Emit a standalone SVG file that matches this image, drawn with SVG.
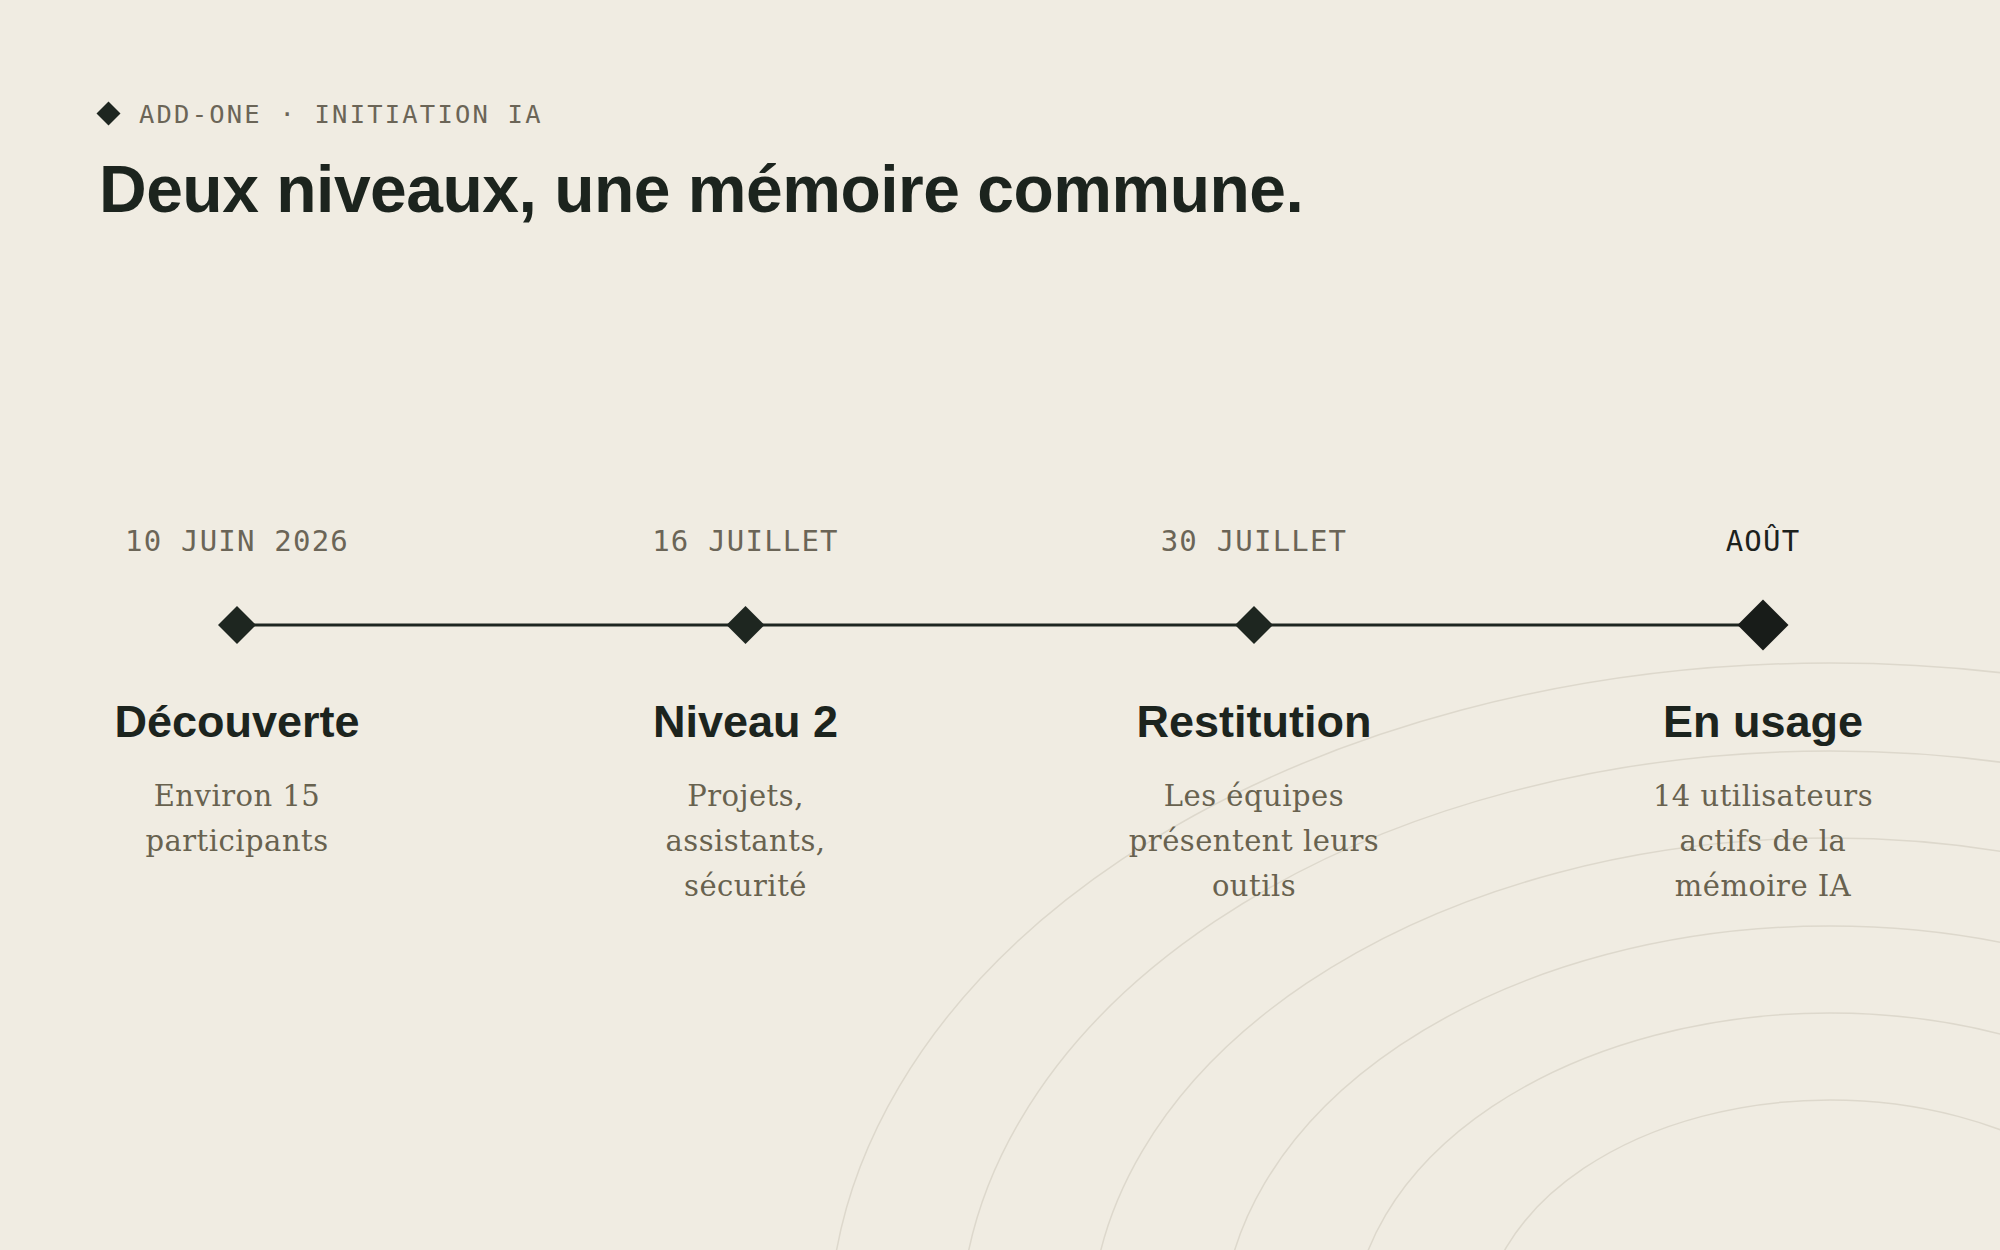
<svg xmlns="http://www.w3.org/2000/svg" width="2000" height="1250" viewBox="0 0 2000 1250">
  <style>
    .bg { fill: #f0ece2; }
    .ring { fill: none; stroke: #ddd8cc; stroke-width: 1.5; }
    .kicker { font-family: "DejaVu Sans Mono", "Liberation Mono", monospace; font-size: 25.5px; letter-spacing: 2.2px; fill: #6b6557; }
    .title { font-family: "Liberation Sans", Arial, sans-serif; font-weight: 700; font-size: 66px; letter-spacing: -0.5px; fill: #1c241e; }
    .date { font-family: "DejaVu Sans Mono", "Liberation Mono", monospace; font-size: 29px; letter-spacing: 1.2px; fill: #6b6557; text-anchor: middle; }
    .date.current { fill: #1c211d; }
    .head { font-family: "Liberation Sans", Arial, sans-serif; font-weight: 700; font-size: 45px; fill: #1c241e; text-anchor: middle; }
    .desc { font-family: "DejaVu Serif", "Liberation Serif", serif; font-size: 29px; letter-spacing: 0.5px; fill: #68624f; text-anchor: middle; }
    .mark { fill: #1e2620; }
    .mark.big { fill: #181c19; }
    .track { stroke: #1e2620; stroke-width: 3; fill: none; }
  </style>
  <rect class="bg" x="0" y="0" width="2000" height="1250"/>

  <g id="background-rings">
    <ellipse class="ring" cx="1830" cy="1333" rx="1001" ry="670"/>
    <ellipse class="ring" cx="1830" cy="1333" rx="870" ry="582"/>
    <ellipse class="ring" cx="1830" cy="1333" rx="739.5" ry="495"/>
    <ellipse class="ring" cx="1830" cy="1333" rx="608" ry="407"/>
    <ellipse class="ring" cx="1830" cy="1333" rx="478" ry="320"/>
    <ellipse class="ring" cx="1830" cy="1333" rx="348" ry="233"/>
  </g>

  <g id="header">
    <polygon class="mark" points="108.5,101.5 120.5,113.5 108.5,125.5 96.5,113.5"/>
    <text class="kicker" x="139" y="123">ADD-ONE · INITIATION IA</text>
    <text class="title" x="99" y="212">Deux niveaux, une mémoire commune.</text>
  </g>

  <g id="connectors">
    <line class="track" x1="237" y1="625" x2="1763" y2="625"/>
  </g>

  <g id="node-decouverte">
    <text class="date" x="237" y="551">10 JUIN 2026</text>
    <polygon class="mark" points="237,606 256,625 237,644 218,625"/>
    <text class="head" x="237" y="737">Découverte</text>
    <text class="desc" x="237" y="806">Environ 15</text>
    <text class="desc" x="237" y="851">participants</text>
  </g>

  <g id="node-niveau2">
    <text class="date" x="745.5" y="551">16 JUILLET</text>
    <polygon class="mark" points="745.5,606 764.5,625 745.5,644 726.5,625"/>
    <text class="head" x="745.5" y="737">Niveau 2</text>
    <text class="desc" x="745.5" y="806">Projets,</text>
    <text class="desc" x="745.5" y="851">assistants,</text>
    <text class="desc" x="745.5" y="896">sécurité</text>
  </g>

  <g id="node-restitution">
    <text class="date" x="1254" y="551">30 JUILLET</text>
    <polygon class="mark" points="1254,606 1273,625 1254,644 1235,625"/>
    <text class="head" x="1254" y="737">Restitution</text>
    <text class="desc" x="1254" y="806">Les équipes</text>
    <text class="desc" x="1254" y="851">présentent leurs</text>
    <text class="desc" x="1254" y="896">outils</text>
  </g>

  <g id="node-en-usage">
    <text class="date current" x="1763" y="551">AOÛT</text>
    <polygon class="mark big" points="1763,599.5 1788.5,625 1763,650.5 1737.5,625"/>
    <text class="head" x="1763" y="737">En usage</text>
    <text class="desc" x="1763" y="806">14 utilisateurs</text>
    <text class="desc" x="1763" y="851">actifs de la</text>
    <text class="desc" x="1763" y="896">mémoire IA</text>
  </g>
</svg>
